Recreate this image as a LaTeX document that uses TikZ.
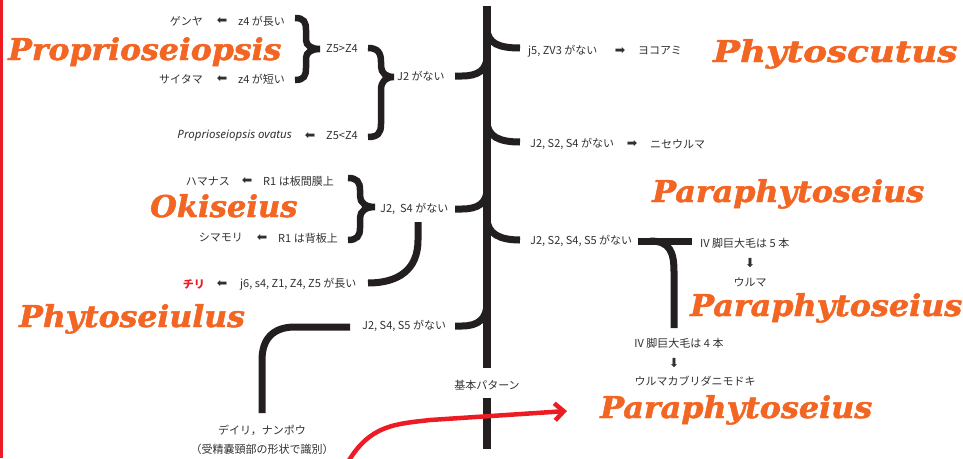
\documentclass[tikz,border=0pt]{standalone}
\usepackage{fontspec}
\setmainfont{Noto Sans CJK JP}
\newfontfamily\jpfont{Noto Sans CJK JP}
\newfontfamily\symfont{DejaVu Sans}
\newfontfamily\genusfont{DejaVu Serif}[BoldItalicFeatures={FakeBold=1.6}]
\newfontfamily\latinit{Noto Sans}
\usetikzlibrary{arrows.meta}
\definecolor{txtcol}{RGB}{50,47,48}
\definecolor{linecol}{RGB}{35,31,32}
\definecolor{orangeg}{RGB}{242,101,34}
\definecolor{redc}{RGB}{237,28,36}
\newcommand{\larr}{{\symfont\fontsize{12.5}{12}\selectfont ⬅}}
\newcommand{\rarr}{{\symfont\fontsize{12.5}{12}\selectfont ➡}}
\newcommand{\darr}{{\symfont\fontsize{12.5}{12}\selectfont ⬇}}
\newcommand{\gx}[2]{\scalebox{#1}[1]{#2}}
\tikzset{
  tx/.style={font=\jpfont\fontsize{11}{12}\selectfont, text=txtcol, inner sep=0pt},
  genus/.style={font=\genusfont\bfseries\itshape\fontsize{30}{32}\selectfont, text=orangeg, inner sep=0pt, anchor=base west},
  trunkline/.style={line width=8pt, draw=linecol},
  branchline/.style={line width=7pt, draw=linecol},
  braceline/.style={line width=6.5pt, draw=linecol},
  redline/.style={line width=4.5pt, draw=redc}
}
\begin{document}
\begin{tikzpicture}[x=1pt,y=-1pt]
\useasboundingbox (0,0) rectangle (963,458);
% left red edge
\draw[redc, line width=3pt] (1.5,0) -- (1.5,458);

% trunk
\coordinate (ttop) at (487,6);
\coordinate (tmid) at (487,368);
\coordinate (tlow) at (487,398);
\coordinate (tbot) at (487,449);
\draw[trunkline] (ttop) -- (tmid);
\draw[trunkline] (tlow) -- (tbot);
\node[tx] (base) at (487,385) {基本パターン};

% right branches
\draw[branchline] (487,28) .. controls (487,44) and (500,48) .. (520,48);
\draw[branchline] (487,121) .. controls (487,137) and (500,142) .. (520,142);
\draw[branchline] (487,218) .. controls (487,234) and (500,240) .. (520,240);

% left branches
\draw[branchline] (455,76) -- (462,76) .. controls (478,76) and (487,70) .. (487,56);
\draw[branchline] (455,209) -- (462,209) .. controls (478,209) and (487,203) .. (487,189);
\draw[branchline] (455,326) -- (462,326) .. controls (478,326) and (487,319) .. (487,303);

% braces
\draw[braceline] (295,18) .. controls (304,18) and (306,22) .. (306,30) -- (306,40) .. controls (306,46) and (312,49) .. (320,49)
  .. controls (312,49) and (306,52) .. (306,58) -- (306,68) .. controls (306,76) and (304,80) .. (295,80);
\draw[braceline] (368,48) .. controls (378,48) and (381,53) .. (381,62) -- (381,66) .. controls (381,73) and (386,77) .. (394,77)
  .. controls (386,77) and (381,81) .. (381,90) -- (381,124) .. controls (381,133) and (378,137) .. (368,137);
\draw[braceline] (348,178) .. controls (357,178) and (360,182) .. (360,190) -- (360,196) .. controls (360,203) and (366,207) .. (375,207)
  .. controls (366,207) and (360,211) .. (360,218) -- (360,228) .. controls (360,236) and (357,240) .. (348,240);

% J2,S4 -> j6 branch
\draw[branchline] (418,222) -- (418,240) .. controls (418,270) and (398,283) .. (368,283);
% J2,S4,S5 -> Deiri branch
\draw[branchline] (350,327) -- (295,327) .. controls (272,327) and (262,340) .. (262,360) -- (262,413);

% T at right
\draw[branchline] (638,241) -- (692,241);
\draw[branchline] (650,241) .. controls (670,241) and (674,252) .. (674,272) -- (674,328);

% Proprioseiopsis group
\node[tx, anchor=east] (genya) at (203,21) {ゲンヤ};
\node[tx] (a1) at (222,21) {\larr};
\node[tx, anchor=west] (z4l) at (238,21) {z4 が長い};
\node[tx, anchor=east] (saitama) at (203,79) {サイタマ};
\node[tx] (a2) at (222,79) {\larr};
\node[tx, anchor=west] (z4s) at (238,79) {z4 が短い};
\node[tx, anchor=west] (z5g) at (326,49) {Z5>Z4};
\node[tx, anchor=west] (j2) at (397,76) {J2 がない};
\node[tx, anchor=east, font=\latinit\itshape\fontsize{11.5}{12}\selectfont] (ovatus) at (292,136) {Proprioseiopsis ovatus};
\node[tx] (a3) at (310,136) {\larr};
\node[tx, anchor=west] (z5l) at (326,136) {Z5<Z4};

% Okiseius group
\node[tx, anchor=east] (hamanasu) at (230,181) {ハマナス};
\node[tx] (a4) at (247,181) {\larr};
\node[tx, anchor=west] (r1a) at (263,181) {R1 は板間膜上};
\node[tx, anchor=east] (shimamori) at (243,238) {シマモリ};
\node[tx] (a5) at (262,238) {\larr};
\node[tx, anchor=west] (r1b) at (278,238) {R1 は背板上};
\node[tx, anchor=west] (j2s4) at (380,209) {J2,~~S4 がない};
\node[tx, anchor=east, text=redc, font=\jpfont\bfseries\fontsize{11}{12}\selectfont] (chiri) at (205,284) {チリ};
\node[tx] (a6) at (222,284) {\larr};
\node[tx, anchor=west] (j6) at (240,284) {j6, s4, Z1, Z4, Z5 が長い};

% lower left
\node[tx, anchor=west] (j2s4s5) at (362,326) {J2, S4, S5 がない};
\node[tx] (deiri) at (262,430) {デイリ，ナンポウ};
\node[tx] (juseinou) at (262,449) {（受精嚢頸部の形状で識別）};

% right group
\node[tx, anchor=west] (j5) at (528,51) {j5, ZV3 がない};
\node[tx] (a7) at (620,51) {\rarr};
\node[tx, anchor=west] (yokoami) at (638,51) {ヨコアミ};
\node[tx, anchor=west] (j2s2s4) at (530,144) {J2, S2, S4 がない};
\node[tx] (a8) at (632,144) {\rarr};
\node[tx, anchor=west] (niseuruma) at (650,144) {ニセウルマ};
\node[tx, anchor=west] (j2s2s4s5) at (530,241) {J2, S2, S4, S5 がない};
\node[tx, anchor=west] (iv5) at (700,243) {IV 脚巨大毛は 5 本};
\node[tx] (a9) at (750,263) {\darr};
\node[tx] (uruma) at (750,282) {ウルマ};
\node[tx] (iv4) at (679,343) {IV 脚巨大毛は 4 本};
\node[tx] (a10) at (674,363) {\darr};
\node[tx] (urumamodoki) at (695,381) {ウルマカブリダニモドキ};

% genus labels
\node[genus] (proprio) at (8,60) {\gx{1.05}{Proprioseiopsis}};
\node[genus] (phytoscutus) at (713,62) {\gx{1.19}{Phytoscutus}};
\node[genus] (para1) at (652,202) {\gx{1.06}{Paraphytoseius}};
\node[genus] (okiseius) at (150,217) {\gx{1.02}{Okiseius}};
\node[genus] (para2) at (690,316) {\gx{1.06}{Paraphytoseius}};
\node[genus] (phytoseiulus) at (19,327) {\gx{1.05}{Phytoseiulus}};
\node[genus] (para3) at (600,418) {\gx{1.06}{Paraphytoseius}};

% red arrow
\coordinate (rstart) at (348,462);
\coordinate (rtip) at (567,411);
\draw[redline, -{Straight Barb[length=9pt,width=17pt,line width=4.5pt]}] (rstart) .. controls (370,425) and (395,424) .. (430,420) -- (rtip);
\end{tikzpicture}
\end{document}
